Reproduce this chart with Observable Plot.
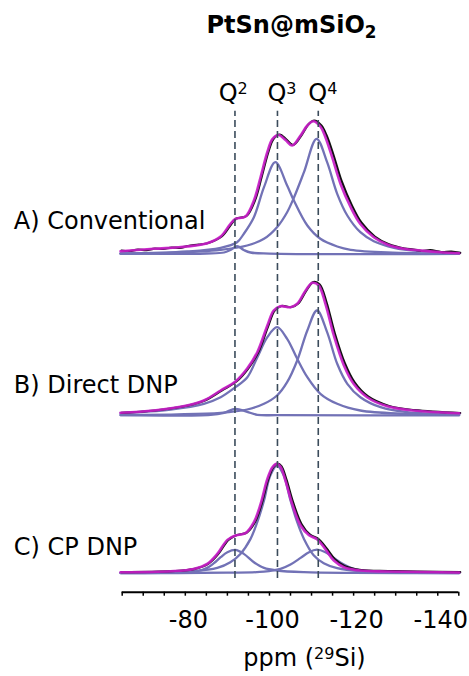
<!DOCTYPE html>
<html>
<head>
<meta charset="utf-8">
<script src="https://cdn.jsdelivr.net/npm/d3@7"></script>
<script src="https://cdn.jsdelivr.net/npm/@observablehq/plot@0.6"></script>
<style>
  html, body { margin: 0; padding: 0; background: #fff; }
  #wrap { position: relative; width: 469px; height: 676px; font-family: "DejaVu Sans", sans-serif; }
  #title { position: absolute; left: 114px; width: 355px; top: 13px; text-align: center;
           font: bold 24px "DejaVu Sans", sans-serif; line-height: 24px; color: #000; }
  #title sub { font-size: 0.7em; vertical-align: -0.28em; line-height: 0; }
  #chart { position: absolute; left: 0; top: 0; }
</style>
</head>
<body>
<div id="wrap">
  <div id="chart"></div>
  <div id="title"></div>
</div>
<script>
// ---------- data (ppm, intensity above panel baseline) ----------
const titleMain = "PtSn@mSiO";
const titleSub = "2";
const panels = ["A", "B", "C"];
const panelLabels = ["A) Conventional", "B) Direct DNP", "C) CP DNP"];
const qNames = ["Q2", "Q3", "Q4"];
const qText = ["Q²", "Q³", "Q⁴"];
const qPpm = [-91.8, -101.9, -111.6];
const minorTicks = [-65, -70, -75, -80, -85, -90, -95, -100, -105, -110, -115, -120, -125, -130, -135, -140, -145];
const labelTicks = [-80, -100, -120, -140];
const axisTitle = "ppm (²⁹Si)";

// Panel A: Conventional
const A_exp = [[-64.6,3.5],[-66.5,3],[-68.5,4.4],[-70.5,3.8],[-72.5,5.4],[-74.5,5],[-76.5,6.4],[-78.5,6.2],[-80.4,8],[-83,9.4],[-85.2,11],[-88.4,17.5],[-90.7,30],[-91.9,35.5],[-94.3,38],[-96.3,53.5],[-97.9,77],[-99.5,102],[-100.7,115],[-102.2,119.5],[-103.8,114.5],[-105.4,109],[-107.4,119],[-109.0,129.5],[-110.4,133.5],[-112.1,128.5],[-113.3,119],[-114.9,100],[-116.9,73],[-119.3,49],[-121.6,31.5],[-124.8,17.5],[-128.0,10],[-131.9,5.5],[-134,4.5],[-136,3],[-138,3.8],[-140.6,2],[-143,2.4],[-145.1,1.2]];
const A_fit = [[-64.6,2.8],[-72.5,5.2],[-80.4,7.5],[-85.2,10.8],[-88.4,17.5],[-90.7,30],[-91.9,35],[-94.3,37.5],[-96.3,53.5],[-97.9,77],[-99.5,102],[-100.7,115],[-102.2,119],[-103.8,114],[-105.4,108.5],[-107.4,118.5],[-109.0,128.5],[-110.4,132.8],[-112.1,127.5],[-113.3,116.8],[-114.9,96.8],[-116.9,70],[-119.3,46.8],[-121.6,30],[-124.8,16.8],[-128.0,9.5],[-131.9,5.2],[-135.9,3.5],[-140.6,1.8],[-145.1,0.8]];
const A_Q2 = [[-64.6,0.3],[-85,0.5],[-89.2,1.5],[-90.7,4],[-92.3,7.8],[-93.9,4],[-95.5,1.5],[-100,0.4],[-145.1,0.2]];
const A_Q3 = [[-64.6,0.3],[-80.4,2.5],[-88.4,6.2],[-92.3,11.8],[-93.9,20.2],[-96.3,36.8],[-98.7,66.8],[-101.4,91.8],[-104.2,68.5],[-105.8,53.5],[-109.0,28.5],[-112.1,15.2],[-116.1,7.5],[-119.3,4.2],[-128.0,1.5],[-145.1,0.3]];
const A_Q4 = [[-64.6,0.5],[-76.5,1.2],[-88.4,4.2],[-94.7,8.5],[-98.7,15.2],[-101.8,26.8],[-104.2,41.8],[-105.8,56.2],[-108.2,81.8],[-111.2,115.2],[-113.7,91.8],[-116.1,60.2],[-118.5,38.5],[-121.6,21.8],[-124.8,12.8],[-129.6,6.2],[-135.9,2.8],[-145.1,1]];

// Panel B: Direct DNP
const B_exp = [[-64.6,2.7],[-72.5,5],[-80.4,10],[-84.4,15],[-88.4,25],[-91.9,34],[-94.7,47],[-97.1,63.3],[-99.5,90],[-101.0,105],[-102.6,109.5],[-105.0,108.5],[-106.6,112],[-108.6,125.5],[-110.2,133.5],[-111.7,131],[-113.3,113.5],[-115.3,82],[-117.7,52],[-120.0,33],[-123.2,19],[-128.0,9.8],[-134.3,5.3],[-145.1,2.5]];
const B_fit = [[-64.6,2.7],[-72.5,5],[-80.4,10],[-84.4,15],[-88.4,25],[-91.9,34],[-94.7,47],[-97.1,63.3],[-99.5,90],[-101.0,105],[-102.6,109.3],[-105.0,108.3],[-106.6,111.7],[-108.6,125],[-110.2,132.7],[-111.7,130],[-113.3,111.7],[-115.3,80],[-117.7,50],[-120.0,31.7],[-123.2,18.3],[-128.0,9.3],[-134.3,5],[-145.1,2.3]];
const B_Q2 = [[-64.6,0.3],[-86,0.6],[-89.2,2.7],[-91.9,6.7],[-94.7,3.7],[-97.1,0.7],[-102,0.3],[-145.1,0.2]];
const B_Q3 = [[-64.6,2.3],[-76.5,6],[-84.4,11.7],[-88.4,18.3],[-91.9,28.3],[-94.7,38],[-97.1,58],[-99.5,78.3],[-101.8,88.3],[-104.2,76.7],[-106.6,56.7],[-109.0,38.3],[-112.1,21.7],[-116.1,11.7],[-121.6,5],[-131.9,1.7],[-145.1,0.7]];
const B_Q4 = [[-64.6,0.5],[-88.4,2.7],[-94.7,6],[-98.7,11.7],[-101.8,20],[-104.2,33.3],[-106.6,55],[-109.0,85],[-111.3,105],[-113.7,83.3],[-116.1,51.7],[-118.5,31.7],[-121.6,18.3],[-126.4,8.3],[-132.7,3.3],[-145.1,1]];

// Panel C: CP DNP
const C_exp = [[-64.6,1],[-76.5,2],[-82.0,4.3],[-85.2,9.3],[-87.6,19.3],[-90.0,33.3],[-91.9,38],[-94.3,40.5],[-96.3,51],[-97.9,69.3],[-99.5,94.3],[-100.7,106],[-101.7,109.5],[-102.6,107],[-103.8,93.5],[-105.4,70.5],[-107.4,49],[-109.4,38.5],[-111.3,34.5],[-113.3,25],[-115.3,14],[-117.7,7],[-121.6,3.2],[-128.0,2.2],[-135,1.5],[-145.1,1]];
const C_fit = [[-64.6,1],[-76.5,2],[-82.0,4.3],[-85.2,9.3],[-87.6,19.3],[-90.0,33.3],[-91.9,37.7],[-94.3,40],[-96.3,51],[-97.9,69.3],[-99.5,94.3],[-100.7,106],[-101.7,109.3],[-102.6,106.7],[-103.8,92.7],[-105.4,69.3],[-107.4,47.7],[-109.4,38],[-111.3,34],[-113.3,24],[-115.3,12.7],[-117.7,6],[-121.6,2.7],[-128.0,1.7],[-145.1,0.7]];
const C_Q2 = [[-64.6,0.2],[-76.5,0.7],[-82.8,2],[-85.2,5.3],[-86.8,10],[-88.4,16],[-90.0,21],[-91.9,23.3],[-93.9,19.3],[-96.3,11],[-98.7,5.3],[-101.8,2.7],[-108.2,1],[-120,0.3],[-145.1,0.2]];
const C_Q3 = [[-64.6,0.3],[-82.0,2],[-87.6,5.3],[-90.7,11],[-93.1,19.3],[-95.5,34.3],[-97.1,51],[-98.7,72.7],[-100.2,97.7],[-101.8,107.7],[-103.4,97.7],[-105.0,72.7],[-106.6,51],[-108.2,34.3],[-110.5,18],[-112.9,10],[-116.1,5],[-121.6,2],[-145.1,0.3]];
const C_Q4 = [[-64.6,0.2],[-90,0.5],[-98.7,1.5],[-102.6,4.3],[-105.0,8.7],[-107.4,15.3],[-109.4,21],[-111.3,23.5],[-113.3,21],[-115.3,15.3],[-117.7,8.7],[-120.0,4.3],[-124.0,1.5],[-132,0.5],[-145.1,0.2]];

// ---------- layout (not data) ----------
const layout = {
  offset: { A: 338.2, B: 176.7, C: 19 },     // vertical stacking of panels (y units)
  labelLift: { A: 25, B: 23, C: 18 },
  ruleFrom: 13.7, ruleTo: 481
};
const colors = { comp: "#7272b6", fit: "#c81ec8", exp: "#111111", dash: "#3b4b5b" };

// ---------- build table ----------
const series = {
  A: { exp: A_exp, fit: A_fit, Q2: A_Q2, Q3: A_Q3, Q4: A_Q4 },
  B: { exp: B_exp, fit: B_fit, Q2: B_Q2, Q3: B_Q3, Q4: B_Q4 },
  C: { exp: C_exp, fit: C_fit, Q2: C_Q2, Q3: C_Q3, Q4: C_Q4 }
};
const rows = [];
for (const p of panels) {
  for (const kind of Object.keys(series[p])) {
    for (const [ppm, v] of series[p][kind]) {
      rows.push({ panel: p, kind, key: p + kind, ppm, v });
    }
  }
}
const Y = d => d.v + layout.offset[d.panel];
const comps = rows.filter(d => d.kind.startsWith("Q"));
const exps = rows.filter(d => d.kind === "exp");
const fits = rows.filter(d => d.kind === "fit");
const qTable = qNames.map((name, i) => ({ name, ppm: qPpm[i], text: qText[i] }));
const panelTable = panels.map((p, i) => ({ panel: p, label: panelLabels[i] }));

const chart = Plot.plot({
  width: 469,
  height: 676,
  marginLeft: 121.7,
  marginRight: 10.7,
  marginTop: 0,
  marginBottom: 84.3,
  x: { domain: [-65, -145] },
  y: { domain: [0, 591.7], axis: null },
  style: { fontFamily: "DejaVu Sans, sans-serif", background: "transparent", color: "#000" },
  marks: [
    Plot.line(comps, { x: "ppm", y: Y, z: "key", stroke: colors.comp, strokeWidth: 2.3, curve: "catmull-rom" }),
    Plot.line(exps, { x: "ppm", y: Y, z: "key", stroke: colors.exp, strokeWidth: 2.2, curve: "catmull-rom", dx: 1 }),
    Plot.line(fits, { x: "ppm", y: Y, z: "key", stroke: colors.fit, strokeWidth: 2.6, strokeOpacity: 0.92, curve: "catmull-rom" }),
    Plot.ruleX(qTable, { x: "ppm", y1: layout.ruleFrom, y2: layout.ruleTo, stroke: colors.dash, strokeWidth: 1.6, strokeDasharray: "7,4" }),
    Plot.text(qTable.filter(d => d.name === "Q2"), { x: "ppm", text: "text", frameAnchor: "top", lineAnchor: "bottom", textAnchor: "start", dy: 100, dx: -16.3, fontSize: 24, fill: "#000" }),
    Plot.text(qTable.filter(d => d.name !== "Q2"), { x: "ppm", text: "text", frameAnchor: "top", lineAnchor: "bottom", textAnchor: "start", dy: 100, dx: -10, fontSize: 24, fill: "#000" }),
    Plot.text(panelTable, { y: d => layout.offset[d.panel] + layout.labelLift[d.panel], text: "label", frameAnchor: "left", textAnchor: "start", lineAnchor: "bottom", dx: -108.4, fontSize: 24, fill: "#000" }),
    Plot.ruleY([0], { stroke: "#000", strokeWidth: 2 }),
    Plot.axisX(minorTicks, { tickSize: 4, tickFormat: () => "", label: null, stroke: "#000", strokeWidth: 1.5 }),
    Plot.axisX(labelTicks, { tickSize: 0, tickPadding: 19, tickFormat: d => `${d}`, label: null, fontSize: 24, dx: 3, fill: "#000" }),
    Plot.text([axisTitle], { text: d => d, frameAnchor: "bottom", lineAnchor: "bottom", dy: 73.3, dx: 14, fontSize: 24, fill: "#000" })
  ]
});

// Render Unicode superscript digits as real superscript tspans (larger, like the reference)
const supMap = { "²": "2", "³": "3", "⁴": "4", "⁹": "9" };
const supSize = 16, supShift = 6.5;
d3.select(chart).selectAll("text").each(function () {
  if (this.querySelector("tspan")) return;
  const str = this.textContent;
  if (!/[²³⁴⁹]/.test(str)) return;
  const runs = [];
  for (const ch of str) {
    const sup = ch in supMap;
    const c = sup ? supMap[ch] : ch;
    if (runs.length && runs[runs.length - 1].sup === sup) runs[runs.length - 1].t += c;
    else runs.push({ sup, t: c });
  }
  this.textContent = "";
  let shifted = false;
  for (const r of runs) {
    const ts = document.createElementNS("http://www.w3.org/2000/svg", "tspan");
    ts.textContent = r.t;
    if (r.sup) { ts.setAttribute("font-size", supSize); ts.setAttribute("dy", -supShift); shifted = true; }
    else if (shifted) { ts.setAttribute("dy", supShift); shifted = false; }
    this.appendChild(ts);
  }
});

document.getElementById("chart").append(chart);
const t = document.getElementById("title");
t.append(titleMain);
const s = document.createElement("sub");
s.textContent = titleSub;
t.append(s);
</script>
</body>
</html>
